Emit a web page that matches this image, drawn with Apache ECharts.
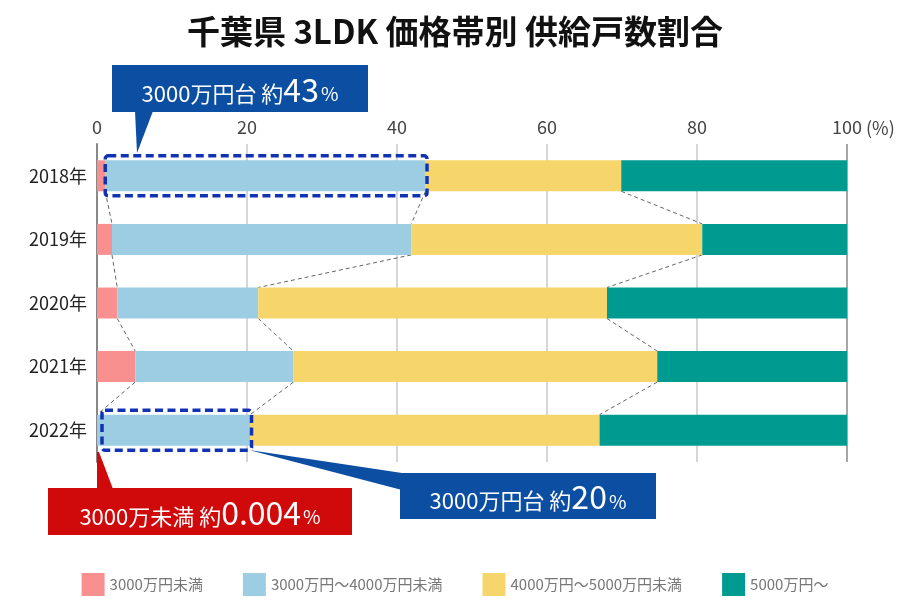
<!DOCTYPE html>
<html><head><meta charset="utf-8">
<script src="https://cdn.jsdelivr.net/npm/echarts@6/dist/echarts.min.js"></script>
<style>html,body{margin:0;padding:0;background:#fff}#c{width:910px;height:608px}</style>
</head><body><div id="c"></div>
<script>
const years = ['2018年','2019年','2020年','2021年','2022年'];
const seriesNames = ['3000万円未満','3000万円〜4000万円未満','4000万円〜5000万円未満','5000万円〜'];
const under3000 = [1.1, 2.0, 2.7, 5.1, 0.004];
const from3000 = [42.7, 39.9, 18.8, 21.1, 20.4];
const from4000 = [26.1, 38.8, 46.5, 48.5, 46.6];
const over5000 = [30.1, 19.3, 32.0, 25.3, 33.0];
const xTicks = [0, 20, 40, 60, 80, 100];
const colors = ['#f89090','#9dcde2','#f6d66b','#009b90'];
const FONT = '"Noto Sans CJK JP", "Noto Sans", sans-serif';

const allSeries = [under3000, from3000, from4000, over5000];
const cum = years.map((_, i) => {
  let s = 0; return allSeries.map(a => (s += a[i]));
});

const chart = echarts.init(document.getElementById('c'));
const BAR_H = 31;

const connectorSeries = {
  type: 'custom', z: 1, silent: true,
  data: years.slice(0, 4).map((y, i) => [0, i]),
  renderItem: (params, api) => {
    const i = params.dataIndex;
    const children = [];
    for (let k = 0; k < 3; k++) {
      const a = api.coord([cum[i][k], i]);
      const b = api.coord([cum[i + 1][k], i + 1]);
      children.push({
        type: 'line',
        shape: { x1: a[0], y1: a[1] + BAR_H / 2, x2: b[0], y2: b[1] - BAR_H / 2 },
        style: { stroke: '#666', lineWidth: 1, lineDash: [4, 3] }
      });
    }
    return { type: 'group', children };
  }
};

const highlightRows = [0, 4];
const boxSeries = {
  type: 'custom', z: 5, silent: true,
  data: highlightRows.map(r => [0, r]),
  renderItem: (params, api) => {
    const r = highlightRows[params.dataIndex];
    const o = api.coord([0, r]);
    const a = api.coord([under3000[r], r]);
    const b = api.coord([under3000[r] + from3000[r], r]);
    const x1 = Math.max(a[0], o[0] + 5), x2 = b[0] + 1.5;
    const y1 = a[1] - BAR_H / 2 - 4.5, y2 = a[1] + BAR_H / 2 + 4.5;
    return {
      type: 'rect',
      shape: { x: x1, y: y1, width: x2 - x1, height: y2 - y1, r: 3 },
      style: { fill: null, stroke: '#1232b4', lineWidth: 3.5, lineDash: [8, 4.5] }
    };
  }
};

const barSeries = seriesNames.map((n, k) => ({
  name: n, type: 'bar', stack: 'total', barWidth: BAR_H,
  itemStyle: { color: colors[k] }, data: allSeries[k], z: 2
}));

function callout(cx, cy, w, h, fill, small, big) {
  return {
    type: 'group', children: [
      { type: 'rect', shape: { x: cx - w / 2, y: cy - h / 2, width: w, height: h }, style: { fill } },
      { type: 'text', x: cx, y: cy + 1, style: {
          text: '{s|' + small + '}{b|' + big + '}{p|%}',
          align: 'center', verticalAlign: 'middle',
          rich: {
            s: { fontSize: 22, fill: '#fff', fontFamily: FONT, verticalAlign: 'bottom', padding: [0,0,1,0] },
            b: { fontSize: 32, fill: '#fff', fontFamily: FONT, verticalAlign: 'bottom' },
            p: { fontSize: 19, fill: '#fff', fontFamily: FONT, verticalAlign: 'bottom', padding: [0,0,2,2] }
          }
      } }
    ]
  };
}

chart.setOption({
  animation: false,
  textStyle: { fontFamily: FONT },
  title: {
    text: '千葉県 3LDK 価格帯別 供給戸数割合', left: 'center', top: 10,
    textStyle: { fontSize: 33, fontWeight: 'bold', color: '#111', fontFamily: FONT }
  },
  grid: { left: 97, right: 63, top: 144, bottom: 146 },
  legend: {
    data: seriesNames, top: 568, left: 'center', icon: 'rect',
    itemWidth: 23, itemHeight: 23, itemGap: 40,
    textStyle: { fontSize: 15, color: '#777', fontFamily: FONT }
  },
  xAxis: {
    type: 'value', position: 'top', min: xTicks[0], max: xTicks[xTicks.length - 1], interval: 20,
    axisLine: { show: false }, axisTick: { show: false },
    axisLabel: { fontSize: 18, color: '#444', margin: 8 },
    splitLine: { show: true, lineStyle: { color: ['#888','#c8c8c8','#c8c8c8','#c8c8c8','#c8c8c8','#888'], width: 1.5 } }
  },
  yAxis: {
    type: 'category', inverse: true, data: years,
    axisTick: { show: false },
    axisLine: { show: true, lineStyle: { color: '#888', width: 2 } },
    axisLabel: { fontSize: 18, color: '#222', margin: 10 }
  },
  series: [...barSeries, connectorSeries, boxSeries],
  graphic: [
    { type: 'text', x: 866, y: 128, style: { text: '(%)', fontSize: 18, fill: '#444', fontFamily: FONT, verticalAlign: 'middle' } },
    { type: 'polygon', shape: { points: [[135,111],[153,111],[137,153]] }, style: { fill: '#0b4ea2' }, z: 10 },
    callout(240, 88.5, 256, 47, '#0b4ea2', '3000万円台 約', '43'),
    { type: 'polygon', shape: { points: [[249,450],[402,473],[402,490]] }, style: { fill: '#0b4ea2' }, z: 10 },
    callout(528, 496, 256, 46, '#0b4ea2', '3000万円台 約', '20'),
    { type: 'polygon', shape: { points: [[97,452],[99,452],[113,489],[97,489]] }, style: { fill: '#d00a0a' }, z: 10 },
    callout(200, 511.5, 304, 47, '#d00a0a', '3000万未満 約', '0.004')
  ]
});
</script></body></html>
